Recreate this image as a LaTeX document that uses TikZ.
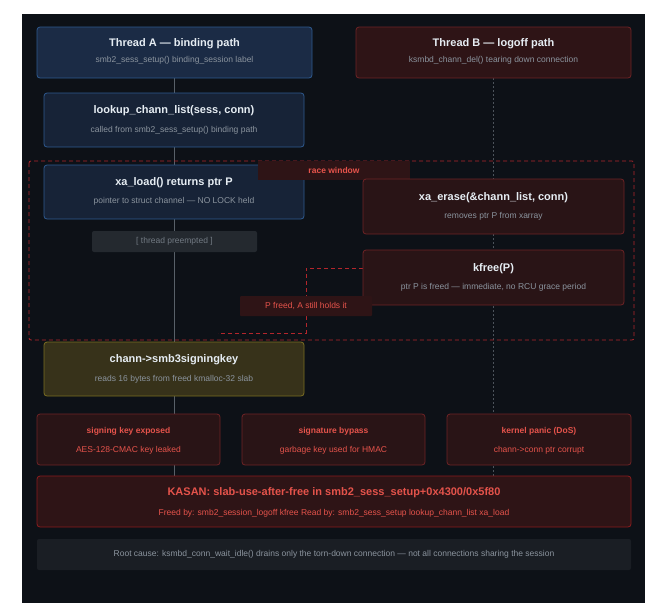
\documentclass[tikz,border=0pt]{standalone}
\usepackage{fontspec}
\setmainfont{Liberation Sans}
\begin{document}
\begin{tikzpicture}[x=1pt,y=-1pt,
  box/.style={rounded corners=3pt,line width=0.8pt},
  bluebox/.style={box,fill=bfill,draw=bline},
  redbox/.style={box,fill=rfill,draw=rline},
  ttl/.style={text=tmain,font=\bfseries\fontsize{11}{13}\selectfont},
  sub/.style={text=tsub,font=\fontsize{8.5}{10}\selectfont},
  rttl/.style={text=tred,font=\bfseries\fontsize{8.5}{10}\selectfont},
  rsub/.style={text=tred,font=\fontsize{8.5}{10}\selectfont},
  racedash/.style={draw=dashred,line width=0.8pt,dash pattern=on 4pt off 3pt}]
\definecolor{bg}{HTML}{0D1117}
\definecolor{bfill}{HTML}{1B2B45}
\definecolor{bline}{HTML}{2E5A90}
\definecolor{rfill}{HTML}{2E1416}
\definecolor{rline}{HTML}{6E2326}
\definecolor{yfill}{HTML}{37321A}
\definecolor{yline}{HTML}{7A6E22}
\definecolor{tmain}{HTML}{E6EDF3}
\definecolor{tsub}{HTML}{8B949E}
\definecolor{tred}{HTML}{E5534B}
\definecolor{dashred}{HTML}{B3262C}
\useasboundingbox (0,0) rectangle (645,603);
\fill[white] (0,0) rectangle (645,603);
\fill[bg] (22,14) rectangle (645,603);
% lifelines
\coordinate (la1) at (174,78); \coordinate (la2) at (174,476);
\coordinate (lb1) at (493,78); \coordinate (lb2) at (493,476);
\draw[tsub!60!bg,line width=0.7pt] (la1) -- (la2);
\draw[tsub!50!bg,line width=0.7pt,dash pattern=on 2pt off 2pt] (lb1) -- (lb2);
% race window
\draw[racedash,rounded corners=2pt] (29,161) rectangle (634,340);
% boxes
\draw[bluebox] (37,27) rectangle (312,78);
\node[ttl] (ta) at (174.5,44) {Thread A — binding path};
\node[sub] at (174.5,60) {smb2\_sess\_setup() binding\_session label};
\draw[redbox] (356,27) rectangle (631,78);
\node[ttl] (tb) at (493.5,44) {Thread B — logoff path};
\node[sub] at (493.5,60) {ksmbd\_chann\_del() tearing down connection};
\draw[bluebox,fill=bfill!70!bg] (44,93) rectangle (304,147);
\node[ttl] (lk) at (174,111) {lookup\_chann\_list(sess, conn)};
\node[sub] at (174,130) {called from smb2\_sess\_setup() binding path};
\draw[bluebox,fill=bfill!70!bg] (44,165) rectangle (304,219);
\node[ttl] (xl) at (174,183) {xa\_load() returns ptr P};
\node[sub] at (174,201) {pointer to struct channel — NO LOCK held};
\fill[rfill] (258,161) rectangle (410,180);
\node[text=tred,font=\bfseries\fontsize{8.5}{10}\selectfont] (rw) at (334,170.5) {race window};
\draw[redbox,fill=rfill!85!bg] (363,179) rectangle (624,234);
\node[ttl] (xe) at (493.5,198) {xa\_erase(\&chann\_list, conn)};
\node[sub] at (493.5,216) {removes ptr P from xarray};
\fill[rounded corners=2pt,fill=tsub!18!bg] (92,231) rectangle (257,252);
\node[sub,text=tsub!80!bg] (tp) at (174.5,241.5) {[ thread preempted ]};
\coordinate (d1) at (363,268); \coordinate (d2) at (306,268);
\coordinate (d3) at (306,333); \coordinate (d4) at (218,333);
\draw[racedash] (d1) -- (d2) -- (d3) -- (d4);
\draw[redbox,fill=rfill!85!bg] (363,250) rectangle (624,305);
\node[ttl] (kf) at (493.5,269) {kfree(P)};
\node[sub] at (493.5,287) {ptr P is freed — immediate, no RCU grace period};
\fill[rfill,rounded corners=1pt] (240,296) rectangle (372,316);
\node[rsub] (pf) at (306,306) {P freed, A still holds it};
\draw[box,fill=yfill,draw=yline] (44,342) rectangle (304,396);
\node[ttl] (ck) at (174,360) {chann->smb3signingkey};
\node[sub] at (174,379) {reads 16 bytes from freed kmalloc-32 slab};
\draw[redbox,fill=rfill!85!bg] (37,414) rectangle (220,465);
\node[rttl] (e1) at (128.5,431) {signing key exposed};
\node[rsub] at (128.5,450) {AES-128-CMAC key leaked};
\draw[redbox,fill=rfill!85!bg] (242,414) rectangle (425,465);
\node[rttl] (e2) at (333.5,431) {signature bypass};
\node[rsub] at (333.5,450) {garbage key used for HMAC};
\draw[redbox,fill=rfill!85!bg] (447,414) rectangle (631,465);
\node[rttl] (e3) at (539,431) {kernel panic (DoS)};
\node[rsub] at (539,450) {chann->conn ptr corrupt};
\draw[box,fill=rfill,draw=rline!80!red] (37,476) rectangle (631,527);
\node[text=tred,font=\bfseries\fontsize{11}{13}\selectfont] (ks) at (334,493) {KASAN: slab-use-after-free in smb2\_sess\_setup+0x4300/0x5f80};
\node[rsub] at (334,513) {Freed by: smb2\_session\_logoff kfree Read by: smb2\_sess\_setup lookup\_chann\_list xa\_load};
\fill[rounded corners=2pt,fill=tsub!10!bg] (37,539) rectangle (631,570);
\node[sub] (rc) at (334,554.5) {Root cause: ksmbd\_conn\_wait\_idle() drains only the torn-down connection — not all connections sharing the session};
\end{tikzpicture}
\end{document}
